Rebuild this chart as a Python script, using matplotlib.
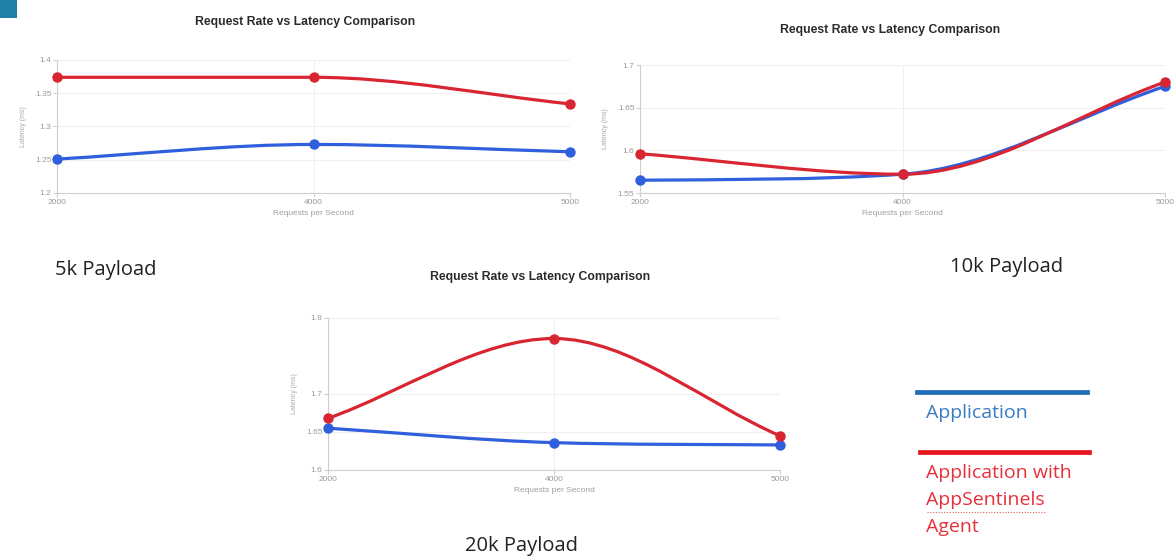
import numpy as np
import matplotlib
matplotlib.use("Agg")
from matplotlib import pyplot as plt
from matplotlib.path import Path
from matplotlib.patches import PathPatch, Rectangle
from matplotlib.lines import Line2D

rates = ["2000", "4000", "5000"]

# latency (ms) per payload size
app_5k = [1.251, 1.273, 1.262]
agent_5k = [1.374, 1.374, 1.334]
app_10k = [1.565, 1.572, 1.675]
agent_10k = [1.596, 1.572, 1.680]
app_20k = [1.655, 1.636, 1.633]
agent_20k = [1.668, 1.773, 1.645]

ticks_5k = [1.2, 1.25, 1.3, 1.35, 1.4]
ticks_10k = [1.55, 1.6, 1.65, 1.7]
ticks_20k = [1.6, 1.65, 1.7, 1.8]

BLUE = "#2f5fdc"
RED = "#d92532"
sans = ["Liberation Sans", "DejaVu Sans"]
body = ["Open Sans", "DejaVu Sans"]


def monotone(ax, xs, ys, color):
    # monotone cubic (Fritsch-Carlson) drawn as bezier segments
    xs = np.asarray(xs, float)
    ys = np.asarray(ys, float)
    n = len(xs)
    dx = np.diff(xs)
    d = np.diff(ys) / dx
    m = np.zeros(n)
    m[0], m[-1] = d[0], d[-1]
    for k in range(1, n - 1):
        m[k] = 0.0 if d[k - 1] * d[k] <= 0 else (d[k - 1] + d[k]) / 2
    for k in range(n - 1):
        if d[k] == 0:
            m[k] = m[k + 1] = 0.0
            continue
        a, b = m[k] / d[k], m[k + 1] / d[k]
        s = a * a + b * b
        if s > 9:
            t = 3 / np.sqrt(s)
            m[k], m[k + 1] = t * a * d[k], t * b * d[k]
    verts = [(xs[0], ys[0])]
    codes = [Path.MOVETO]
    for k in range(n - 1):
        h = dx[k] / 3
        verts += [(xs[k] + h, ys[k] + m[k] * h),
                  (xs[k + 1] - h, ys[k + 1] - m[k + 1] * h),
                  (xs[k + 1], ys[k + 1])]
        codes += [Path.CURVE4] * 3
    ax.add_patch(PathPatch(Path(verts, codes), fill=False, edgecolor=color,
                           lw=2.3, clip_on=False, zorder=3))
    ax.plot(xs, ys, "o", color=color, ms=6.5, clip_on=False, zorder=4)


def panel(rect, title, title_xy, app, agent, ticks):
    ax = fig.add_axes(rect)
    x = np.arange(len(rates))
    ax.set_xlim(0, len(rates) - 1)
    ax.set_ylim(ticks[0], ticks[-1])
    ax.set_xticks(x)
    ax.set_xticklabels(rates)
    ax.set_yticks(ticks)
    ax.set_yticklabels(["%g" % t for t in ticks])
    for s in ["top", "right"]:
        ax.spines[s].set_visible(False)
    for s in ["left", "bottom"]:
        ax.spines[s].set_color("#cfcfcf")
    ax.grid(True, color="#f0f0f0", lw=0.8)
    ax.tick_params(colors="#cfcfcf", labelcolor="#9a9a9a", labelsize=6,
                   length=3, pad=1)
    for lab in ax.get_xticklabels() + ax.get_yticklabels():
        lab.set_family(sans)
    ax.set_xlabel("Requests per Second", fontsize=6, color="#a0a0a0",
                  family=sans, labelpad=3)
    ax.set_ylabel("Latency (ms)", fontsize=5, color="#a8a8a8",
                  family=sans, labelpad=6)
    monotone(ax, x, app, BLUE)
    monotone(ax, x, agent, RED)
    fig.text(title_xy[0] / W, 1 - title_xy[1] / H, title, ha="center",
             va="center", fontsize=8.8, fontweight="bold", color="#2b2b2b",
             family=sans)
    return ax


W, H = 1176, 556
fig = plt.figure(figsize=(W / 100, H / 100), dpi=100)
fig.patch.set_facecolor("white")

title = "Request Rate vs Latency Comparison"
panel([57 / W, 1 - 193 / H, 513 / W, 133 / H], title, (305, 22),
      app_5k, agent_5k, ticks_5k)
panel([640 / W, 1 - 193 / H, 525 / W, 128 / H], title, (890, 30),
      app_10k, agent_10k, ticks_10k)
panel([328 / W, 1 - 470 / H, 452 / W, 152 / H], title, (540, 277),
      app_20k, agent_20k, ticks_20k)

# payload captions
fig.text(55 / W, 1 - 270 / H, "5k Payload", fontsize=14.5, family=body,
         color="#222222", va="center")
fig.text(950 / W, 1 - 267 / H, "10k Payload", fontsize=14.5, family=body,
         color="#222222", va="center")
fig.text(465 / W, 1 - 546 / H, "20k Payload", fontsize=14.5, family=body,
         color="#222222", va="center")

# hand-made legend
fig.add_artist(Line2D([917 / W, 1087 / W], [1 - 392 / H, 1 - 392 / H],
                      color="#1f6db5", lw=3.4))
fig.text(926 / W, 1 - 413 / H, "Application", fontsize=14, family=body,
         color="#3a7cc2", va="center")
fig.add_artist(Line2D([920 / W, 1089 / W], [1 - 452 / H, 1 - 452 / H],
                      color="#e8141c", lw=3.4))
for i, line in enumerate(["Application with", "AppSentinels", "Agent"]):
    fig.text(926 / W, 1 - (473 + 27 * i) / H, line, fontsize=14,
             family=body, color="#e8303a", va="center")
fig.add_artist(Line2D([927 / W, 1046 / W], [1 - 512 / H, 1 - 512 / H],
                      color="#e06060", lw=0.8, ls=(0, (1, 1.5))))

# corner marker
fig.add_artist(Rectangle((0, 1 - 18 / H), 17 / W, 18 / H,
                         transform=fig.transFigure, color="#1f7fa6", lw=0))

fig.savefig("out.png", dpi=100)
